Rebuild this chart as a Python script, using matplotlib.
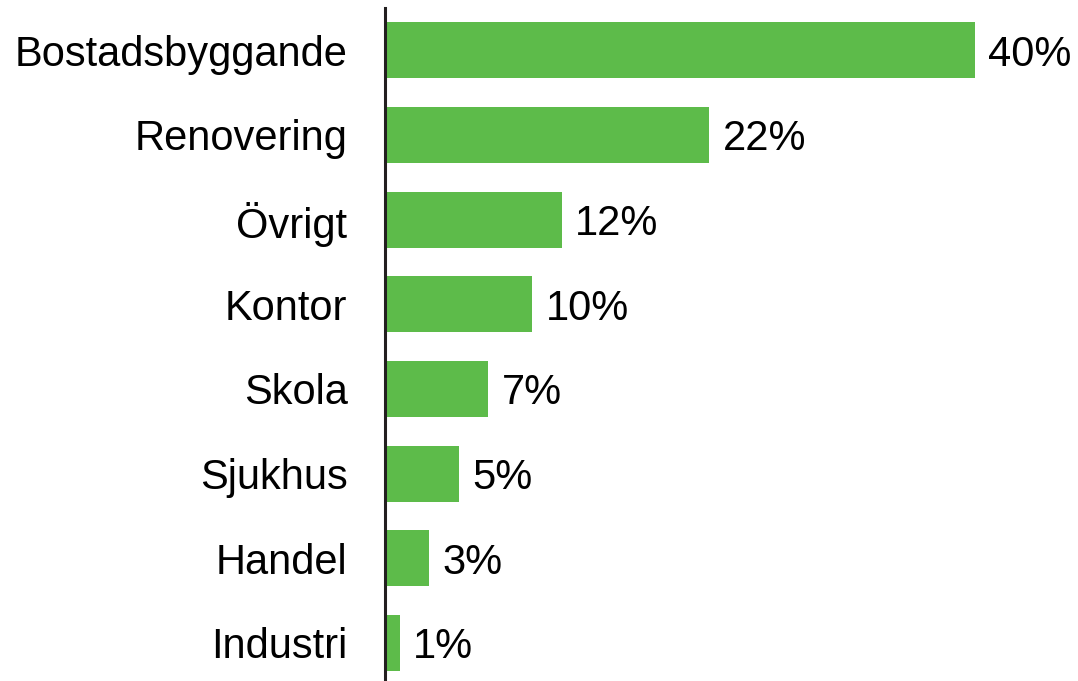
import matplotlib
matplotlib.use("Agg")
import matplotlib.pyplot as plt

# categories and shares (%)
categories = ["Bostadsbyggande", "Renovering", "Övrigt", "Kontor",
              "Skola", "Sjukhus", "Handel", "Industri"]
shares = [40, 22, 12, 10, 7, 5, 3, 1]
value_labels = ["40%", "22%", "12%", "10%", "7%", "5%", "3%", "1%"]

plt.rcParams['font.family'] = ['Liberation Sans', 'DejaVu Sans']

fig = plt.figure(figsize=(10.78, 6.81), dpi=100)
ax = fig.add_axes([385 / 1078, 0, 1 - 385 / 1078, 673 / 681])

pos = list(range(len(categories)))
bars = ax.barh(pos, shares, height=0.66, color="#5dbb4a")

for b, lab in zip(bars, value_labels):
    ax.text(b.get_width() + 0.9, b.get_y() + b.get_height() / 2, lab,
            va="center_baseline", ha="left", fontsize=30, color="black")

ax.set_yticks(pos)
ax.set_yticklabels(categories, fontsize=30, va="center_baseline")
ax.tick_params(axis="y", length=0, pad=27)
ax.set_xticks([])
ax.set_xlim(0, 47)
ax.set_ylim(7.45, -0.5)

for s in ["top", "right", "bottom"]:
    ax.spines[s].set_visible(False)
ax.spines["left"].set_linewidth(2.2)
ax.spines["left"].set_color("#231f20")

fig.savefig("out.png", dpi=100)
